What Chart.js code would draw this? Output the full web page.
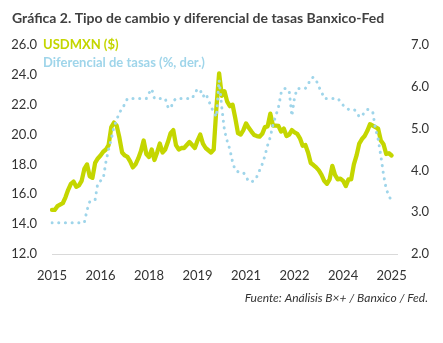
<!DOCTYPE html>
<html>
<head>
<meta charset="utf-8">
<script src="https://cdn.jsdelivr.net/npm/chart.js@4/dist/chart.umd.min.js"></script>
<style>
  body { margin: 0; background: #fff; }
</style>
</head>
<body>
<canvas id="fx-chart" width="443" height="343"></canvas>
<script>
var chartTitle = 'Gráfica 2. Tipo de cambio y diferencial de tasas Banxico-Fed';
var sourceText = 'Fuente: Análisis B×+ / Banxico / Fed.';

// monthly axis, Jan 2015 - Sep 2025; a year label every 18 months
var tickYears = ['2015', '2016', '2018', '2019', '2021', '2022', '2024', '2025'];

// USDMXN, monthly (Jan 2015 - Jul 2025)
var usdmxn = [
  14.95, 14.95, 15.2, 15.3, 15.4, 15.8, 16.3, 16.7, 16.85, 16.5, 16.6, 16.9,
  17.7, 18.0, 17.2, 17.1, 18.1, 18.4, 18.6, 18.85, 19.0, 19.3, 20.5, 20.8,
  20.6, 19.8, 18.8, 18.6, 18.5, 18.2, 17.8, 18.0, 18.4, 18.9, 19.6, 18.7,
  18.5, 19.0, 18.3, 18.8, 19.4, 18.8, 19.0, 19.5, 20.1, 20.3, 19.3, 19.0,
  19.1, 19.1, 19.3, 19.5, 19.3, 19.1, 19.6, 20.0, 19.4, 19.1, 18.95, 18.8,
  19.0, 21.8, 24.1, 22.6, 22.9, 22.2, 21.9, 22.0, 21.1, 20.1, 20.0, 20.3,
  20.75, 20.45, 20.2, 19.97, 19.9, 19.86, 20.05, 20.5, 20.55, 21.4, 20.6, 20.6,
  20.58, 20.2, 20.4, 19.9, 20.0, 20.3, 20.15, 20.05, 19.75, 19.25, 19.3, 18.8,
  18.1, 17.96, 17.8, 17.6, 17.3, 16.9, 16.7, 17.0, 17.9, 17.3, 17.0, 17.05,
  16.9, 16.55, 17.0, 17.0, 18.0, 18.6, 19.4, 19.7, 19.9, 20.25, 20.7, 20.6,
  20.5, 20.4, 19.6, 19.35, 18.7, 18.75, 18.6
];

// Banxico minus Fed target rate, percentage points
var rateSpread = [
  2.75, 2.75, 2.75, 2.75, 2.75, 2.75, 2.75, 2.75, 2.75, 2.75, 2.75, 2.75,
  2.75, 3.05, 3.25, 3.25, 3.3, 3.7, 3.75, 3.8, 4.2, 4.5, 4.75, 5.05,
  5.2, 5.4, 5.45, 5.6, 5.72, 5.72, 5.72, 5.72, 5.72, 5.72, 5.72, 5.72,
  5.85, 5.95, 5.72, 5.72, 5.72, 5.72, 5.72, 5.52, 5.48, 5.65, 5.72, 5.72,
  5.72, 5.72, 5.72, 5.72, 5.72, 5.85, 5.95, 5.92, 5.76, 5.84, 5.7, 5.52,
  5.4, 5.28, 6.16, 5.5, 4.95, 4.7, 4.5, 4.2, 4.0, 3.97, 3.97, 3.95,
  3.85, 3.73, 3.73, 3.75, 3.85, 4.0, 4.15, 4.35, 4.6, 4.8, 5.1, 5.3,
  5.5, 5.85, 5.96, 5.96, 5.9, 5.3, 5.75, 5.96, 5.96, 5.96, 5.96, 6.05,
  6.2, 6.23, 6.16, 6.0, 5.88, 5.72, 5.72, 5.72, 5.72, 5.72, 5.72, 5.65,
  5.56, 5.5, 5.46, 5.46, 5.46, 5.4, 5.28, 5.3, 5.4, 5.46, 5.45, 5.4,
  5.0, 4.75, 4.35, 3.9, 3.55, 3.4, 3.25
];

var months = [];
for (var y = 2015; y <= 2025; y++) {
  for (var m = 1; m <= 12; m++) {
    if (y === 2025 && m > 9) break;
    months.push(y + '-' + (m < 10 ? '0' + m : m));
  }
}

var fxColor = '#c4d600';
var spreadColor = '#9fd5ea';
var textColor = '#333333';
var fontFamily = 'Lato, "Open Sans", sans-serif';

// title, in-plot legend and source line
var chartText = {
  id: 'chartText',
  afterDraw: function (chart) {
    var ctx = chart.ctx;
    ctx.save();
    ctx.textBaseline = 'alphabetic';
    ctx.textAlign = 'left';

    ctx.fillStyle = '#404040';
    ctx.font = 'bold 14px ' + fontFamily;
    ctx.fillText(chartTitle, 12, 23);

    ctx.font = 'bold 13px ' + fontFamily;
    ctx.fillStyle = fxColor;
    ctx.fillText('USDMXN ($)', 43, 49);
    ctx.fillStyle = spreadColor;
    ctx.fillText('Diferencial de tasas (%, der.)', 43, 67);

    ctx.font = 'italic 12px ' + fontFamily;
    ctx.fillStyle = textColor;
    ctx.textAlign = 'right';
    ctx.fillText(sourceText, 428, 302);
    ctx.restore();
  }
};

new Chart(document.getElementById('fx-chart'), {
  type: 'line',
  data: {
    labels: months,
    datasets: [
      {
        label: 'USDMXN ($)',
        data: usdmxn,
        yAxisID: 'y',
        borderColor: fxColor,
        borderWidth: 4.3,
        borderJoinStyle: 'round',
        borderCapStyle: 'round',
        pointRadius: 0,
        order: 2
      },
      {
        label: 'Diferencial de tasas (%, der.)',
        data: rateSpread,
        yAxisID: 'y1',
        borderColor: spreadColor,
        borderWidth: 3,
        borderDash: [0.1, 6.6],
        borderCapStyle: 'round',
        pointRadius: 0,
        order: 1
      }
    ]
  },
  options: {
    responsive: false,
    animation: false,
    layout: { padding: { top: 45, left: 0, right: 0, bottom: 0 } },
    plugins: {
      legend: { display: false },
      tooltip: { enabled: false }
    },
    scales: {
      x: {
        grid: { display: false, drawTicks: false },
        border: { display: true, color: '#d9d9d9', width: 1 },
        ticks: {
          autoSkip: false,
          maxRotation: 0,
          padding: 14,
          color: textColor,
          font: { family: fontFamily, size: 13 },
          callback: function (val, i) {
            return i % 18 === 0 ? tickYears[i / 18] : null;
          }
        },
        afterFit: function (scale) { scale.height = 89; }
      },
      y: {
        position: 'left',
        min: 12,
        max: 26,
        grid: { display: false, drawTicks: false },
        border: { display: false },
        ticks: {
          stepSize: 2,
          padding: 15,
          color: textColor,
          font: { family: fontFamily, size: 13 },
          callback: function (v) { return v.toFixed(1); }
        },
        afterFit: function (scale) { scale.width = 52; }
      },
      y1: {
        position: 'right',
        min: 2,
        max: 7,
        grid: { display: false, drawTicks: false },
        border: { display: false },
        ticks: {
          stepSize: 1,
          padding: 14,
          color: textColor,
          font: { family: fontFamily, size: 13 },
          callback: function (v) { return v.toFixed(1); }
        },
        afterFit: function (scale) { scale.width = 46; }
      }
    }
  },
  plugins: [chartText]
});
</script>
</body>
</html>
